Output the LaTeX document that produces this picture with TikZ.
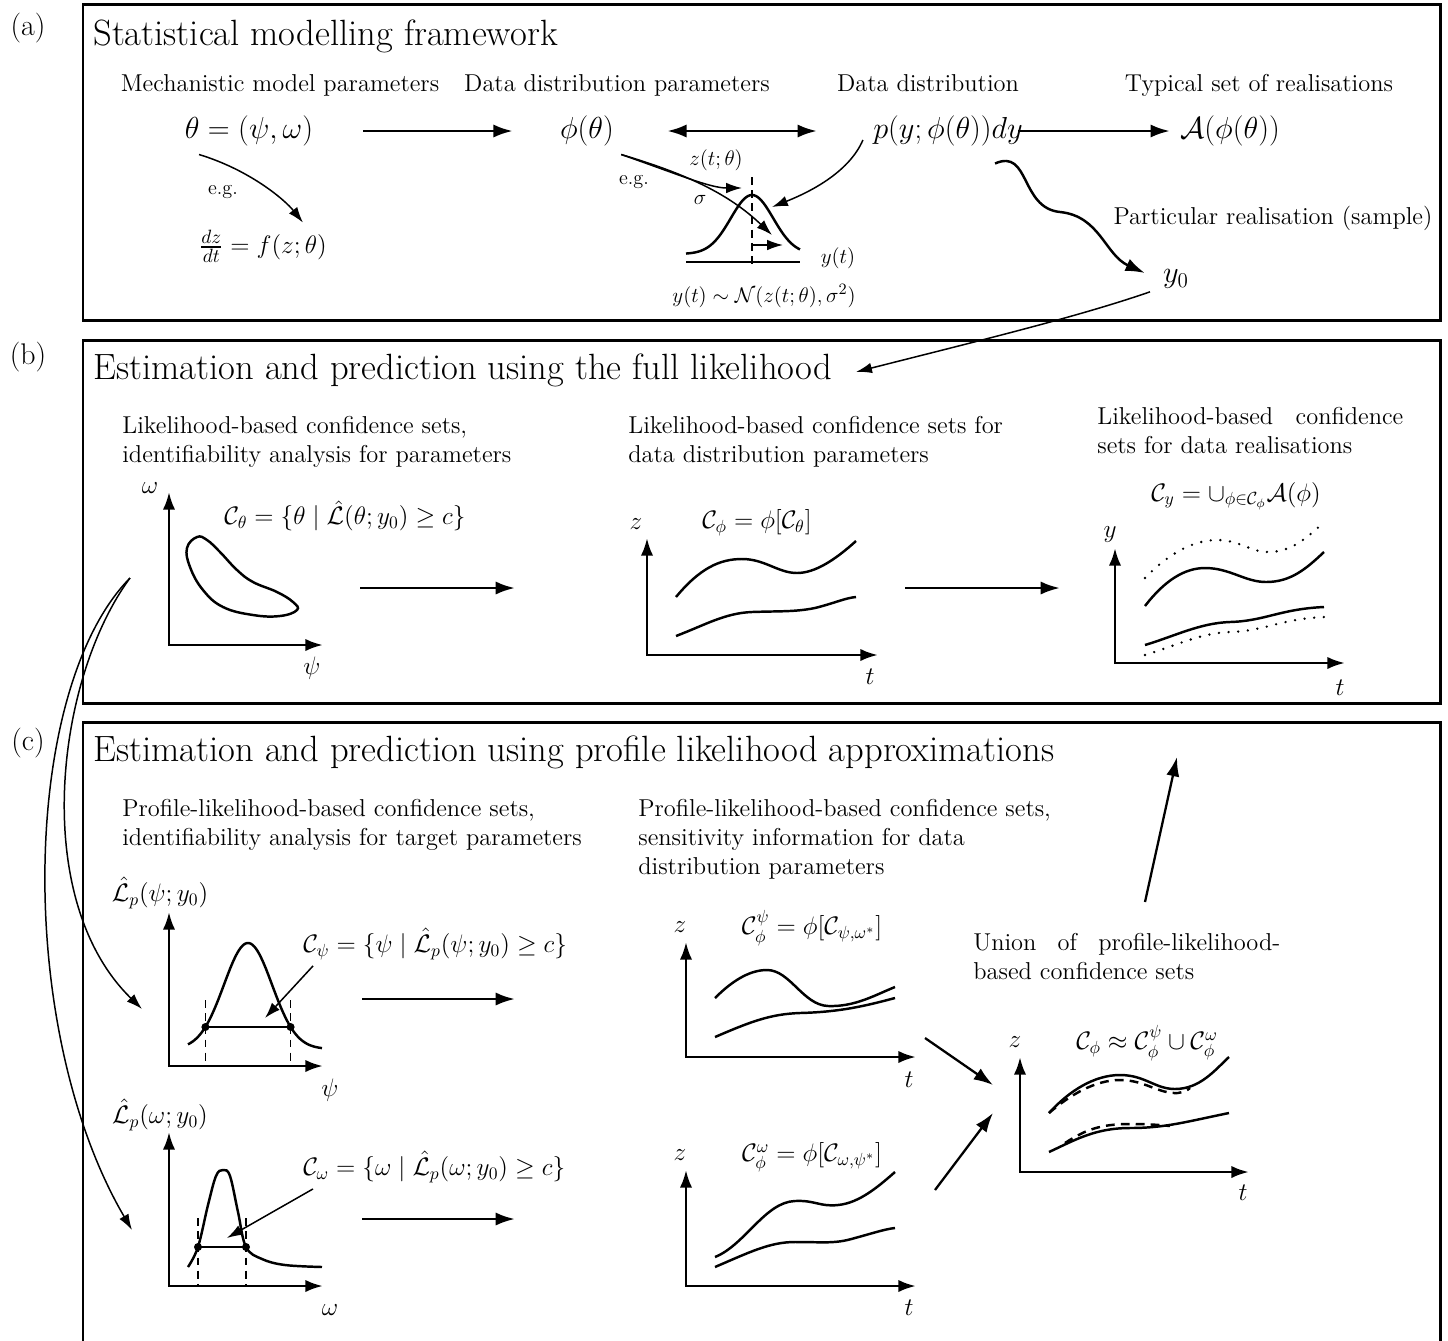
\documentclass[tikz,border=0pt]{standalone}
\usepackage{amsmath,amssymb}
\usetikzlibrary{arrows.meta, calc}

\tikzset{
  panelbox/.style={line width=1.7pt},
  panellbl/.style={font=\fontsize{17}{20}\selectfont, inner sep=0pt},
  paneltitle/.style={font=\fontsize{20.8}{24}\selectfont, inner sep=0pt, anchor=base west},
  lbl/.style={font=\fontsize{13.9}{16.6}\selectfont, inner sep=0pt, align=left},
  mathlbl/.style={font=\fontsize{17.5}{20}\selectfont, inner sep=0pt},
  setlbl/.style={font=\fontsize{14.5}{17}\selectfont, inner sep=0pt},
  smalllbl/.style={font=\fontsize{13}{15.5}\selectfont, inner sep=0pt},
  axlbl/.style={font=\fontsize{14}{16}\selectfont, inner sep=0pt},
  bigarrow/.style={line width=1.6pt, -{Latex[length=11pt,width=7.5pt]}},
  thinarrow/.style={line width=0.85pt, -{Latex[length=9pt,width=6pt]}},
  axisline/.style={line width=1.6pt, {Latex[length=10pt,width=7pt]}-{Latex[length=10pt,width=7pt]}},
  bandline/.style={line width=1.4pt},
  dotline/.style={line width=1.5pt, line cap=round, dash pattern=on 0pt off 5.5pt},
  dashline/.style={line width=1.4pt, dash pattern=on 5pt off 3.5pt},
  guideline/.style={line width=0.8pt, dash pattern=on 4.5pt off 3pt},
}

\begin{document}
\begin{tikzpicture}[x=0.02cm, y=-0.02cm]
  \useasboundingbox (0,0) rectangle (1448,1340);

  % ---------------- (a) statistical modelling framework
  \draw[panelbox] (83,4) rectangle (1440,320);
  \node[panellbl] (taga) at (28,28) {(a)};
  \node[paneltitle] (titlea) at (93,45) {Statistical modelling framework};

  \node[lbl, anchor=base] (mechlbl) at (280,91) {Mechanistic model parameters};
  \node[lbl, anchor=base] (ddplbl) at (617,91) {Data distribution parameters};
  \node[lbl, anchor=base] (ddlbl) at (928,91) {Data distribution};
  \node[lbl, anchor=base] (typlbl) at (1259,91) {Typical set of realisations};

  \node[mathlbl] (theta) at (249,131) {$\theta=(\psi,\omega)$};
  \node[mathlbl] (phi) at (587,131) {$\phi(\theta)$};
  \node[mathlbl] (pdist) at (948,131) {$p(y;\phi(\theta))dy$};
  \node[mathlbl] (typset) at (1230,131) {$\mathcal{A}(\phi(\theta))$};
  \node[mathlbl, font=\fontsize{15.8}{18}\selectfont] (ode) at (263,246) {$\frac{dz}{dt}=f(z;\theta)$};
  \node[lbl] (eg1) at (223,192) {\fontsize{11.5}{13}\selectfont e.g.};
  \node[lbl] (eg2) at (634,182) {\fontsize{11.5}{13}\selectfont e.g.};

  \draw[bigarrow] ($(theta.east)+(50,0)$) -- ($(phi.west)+(-47,0)$);
  \draw[line width=1.6pt, {Latex[length=11pt,width=7.5pt]}-{Latex[length=11pt,width=7.5pt]}]
    ($(phi.east)+(53,0)$) -- ($(pdist.west)+(-56,0)$);
  \draw[bigarrow] ($(pdist.east)+(-5,0)$) -- ($(typset.west)+(-10,0)$);
  \draw[thinarrow] ($(theta.south)+(-50,8)$) .. controls (250,170) and (285,200) .. ($(ode.north)+(40,-7)$);

  % normal distribution sketch
  \coordinate (ztip) at (742,188);
  \coordinate (sigtip) at (772,235);
  \coordinate (gtip) at (772,207);
  \draw[bandline] (686,262) -- (800,262);
  \draw[bandline] plot[domain=686:800, samples=60] (\x, {254-59*exp(-((\x-752)/30)^2)});
  \draw[guideline] (752,177) -- (752,268);
  \draw[thinarrow] (753,245) -- (783,245);
  \node[smalllbl] (ztlbl) at (716,160) {$z(t;\theta)$};
  \node[smalllbl] (siglbl) at (700,200) {$\sigma$};
  \node[smalllbl] (ytlbl) at (838,258) {$y(t)$};
  \node[smalllbl] (normlbl) at (764,296) {$y(t)\sim\mathcal{N}(z(t;\theta),\sigma^2)$};
  \draw[thinarrow] ($(phi.south east)+(7,8)$) .. controls (690,175) and (730,195) .. (sigtip);
  \draw[thinarrow] ($(phi.south east)+(7,8)$) .. controls (680,175) and (710,188) .. (ztip);
  \draw[thinarrow] ($(pdist.west)+(-10,9)$) .. controls (850,170) and (815,190) .. (gtip);

  \node[lbl] (partlbl) at (1273,218) {Particular realisation (sample)};
  \node[mathlbl] (yzero) at (1176,279) {$y_0$};
  \draw[bigarrow, line width=1.4pt] ($(pdist.south east)+(-28,17)$) .. controls (1030,148) and (1020,208) .. (1060,212)
    .. controls (1100,216) and (1105,255) .. ($(yzero.west)+(-18,-6)$);

  % ---------------- (b) full likelihood
  \draw[panelbox] (83,340) rectangle (1440,703);
  \node[panellbl] (tagb) at (28,357) {(b)};
  \node[paneltitle] (titleb) at (93,379) {Estimation and prediction using the full likelihood};
  \draw[thinarrow] ($(yzero.south)+(-26,3)$) .. controls (1080,316) and (990,338) .. ($(titleb.east)+(24,2)$);

  \node[lbl, anchor=north west] (lik1) at (122,416) {Likelihood-based confidence sets,\\identifiability analysis for parameters};
  \node[lbl, anchor=north west] (lik2) at (628,416) {Likelihood-based confidence sets for\\data distribution parameters};
  \node[lbl, anchor=north west] (lik3) at (1097,407) {\makebox[6.12cm][s]{Likelihood-based confidence}\\sets for data realisations};

  % parameter space
  \draw[axisline] (169,492) -- (169,645) -- (323,645);
  \node[axlbl] (omegaax) at (150,488) {$\omega$};
  \node[axlbl] (psiax) at (312,668) {$\psi$};
  \draw[bandline] plot[smooth cycle, tension=0.7] coordinates {(197,537) (187,548) (190,567) (203,590) (223,607) (253,615) (280,616) (297,610) (293,602) (277,592) (253,582) (237,570) (220,552) (207,540)};
  \node[setlbl] (ctheta) at (345,516) {$\mathcal{C}_\theta=\{\theta\mid\hat{\mathcal{L}}(\theta;y_0)\geq c\}$};
  \coordinate (b1s) at (360,588);
  \coordinate (b1e) at (515,588);
  \draw[bigarrow] (b1s) -- (b1e);

  % data distribution parameter space
  \draw[axisline] (647,538) -- (647,655) -- (878,655);
  \node[axlbl] (zax1) at (636,524) {$z$};
  \node[axlbl] (tax1) at (870,677) {$t$};
  \node[setlbl] (cphi) at (757,523) {$\mathcal{C}_\phi=\phi[\mathcal{C}_\theta]$};
  \draw[bandline] (676,597) .. controls (700,568) and (720,559) .. (742,559)
    .. controls (765,559) and (778,573) .. (797,573) .. controls (815,573) and (835,560) .. (856,541);
  \draw[bandline] (676,636) .. controls (705,625) and (725,613) .. (752,612)
    .. controls (780,611) and (795,612) .. (815,608) .. controls (835,603) and (845,598) .. (856,597);
  \coordinate (b2s) at (905,588);
  \coordinate (b2e) at (1060,588);
  \draw[bigarrow] (b2s) -- (b2e);

  % data realisations
  \draw[axisline] (1115,548) -- (1115,663) -- (1345,663);
  \node[axlbl] (yax) at (1110,535) {$y$};
  \node[axlbl] (tax2) at (1340,688) {$t$};
  \node[setlbl] (cy) at (1236,496) {$\mathcal{C}_y=\cup_{\phi\in\mathcal{C}_\phi}\mathcal{A}(\phi)$};
  \draw[dotline] (1145,578) .. controls (1170,552) and (1195,540) .. (1217,540)
    .. controls (1240,540) and (1250,552) .. (1268,552) .. controls (1290,552) and (1305,540) .. (1324,522);
  \draw[bandline] (1145,606) .. controls (1165,580) and (1185,568) .. (1205,568)
    .. controls (1230,568) and (1245,582) .. (1266,582) .. controls (1290,582) and (1305,570) .. (1324,552);
  \draw[bandline] (1145,645) .. controls (1175,636) and (1200,623) .. (1230,622)
    .. controls (1265,621) and (1280,609) .. (1324,607);
  \draw[dotline] (1145,655) .. controls (1175,646) and (1200,633) .. (1230,632)
    .. controls (1265,631) and (1280,619) .. (1324,617);

  % ---------------- (c) profile likelihood
  \draw[panelbox] (83,1345) -- (83,722) -- (1440,722) -- (1440,1345);
  \node[panellbl] (tagc) at (28,743) {(c)};
  \node[paneltitle] (titlec) at (93,761) {Estimation and prediction using profile likelihood approximations};

  \node[lbl, anchor=north west] (prof1) at (122,799) {Profile-likelihood-based confidence sets,\\identifiability analysis for target parameters};
  \node[lbl, anchor=north west] (prof2) at (638,799) {Profile-likelihood-based confidence sets,\\sensitivity information for data\\distribution parameters};
  \node[lbl, anchor=north west] (unionlbl) at (973,933) {\makebox[6.14cm][s]{Union of profile-likelihood-}\\based confidence sets};

  % profile for psi
  \draw[axisline] (169,912) -- (169,1066) -- (323,1066);
  \node[setlbl] (lpsi) at (160,893) {$\hat{\mathcal{L}}_p(\psi;y_0)$};
  \node[axlbl] (psiax2) at (330,1090) {$\psi$};
  \draw[guideline] (205.4,1000) -- (205.4,1066);
  \draw[guideline] (290.6,1000) -- (290.6,1066);
  \draw[bandline] plot[domain=188:322, samples=80] (\x, {1049-106*exp(-((\x-248)/34)^2)});
  \draw[line width=1.2pt] (205.4,1027) -- (290.6,1027);
  \fill (205.4,1027) circle (4) (290.6,1027) circle (4);
  \node[setlbl, anchor=west] (cpsi) at (303,944) {$\mathcal{C}_\psi=\{\psi\mid\hat{\mathcal{L}}_p(\psi;y_0)\geq c\}$};
  \coordinate (cpsitip) at (265,1018);
  \draw[thinarrow] ($(cpsi.south west)+(10,6)$) -- (cpsitip);
  \coordinate (c1s) at (362,999);
  \coordinate (c1e) at (515,999);
  \draw[bigarrow] (c1s) -- (c1e);

  % profile for omega
  \draw[axisline] (169,1132) -- (169,1286) -- (323,1286);
  \node[setlbl] (lomega) at (160,1115) {$\hat{\mathcal{L}}_p(\omega;y_0)$};
  \node[axlbl] (omegaax2) at (330,1310) {$\omega$};
  \draw[guideline] (198,1218) -- (198,1286);
  \draw[guideline] (246,1218) -- (246,1286);
  \draw[bandline] plot[smooth, tension=0.6] coordinates {(188,1267) (198,1247) (208,1205) (216,1176) (223,1170) (230,1176) (238,1212) (246,1247) (262,1259) (285,1265) (322,1267)};
  \draw[line width=1.2pt] (198,1247) -- (246,1247);
  \fill (198,1247) circle (4) (246,1247) circle (4);
  \node[setlbl, anchor=west] (comega) at (303,1167) {$\mathcal{C}_\omega=\{\omega\mid\hat{\mathcal{L}}_p(\omega;y_0)\geq c\}$};
  \coordinate (comegatip) at (227,1238);
  \draw[thinarrow] ($(comega.south west)+(10,6)$) -- (comegatip);
  \coordinate (c2s) at (362,1219);
  \coordinate (c2e) at (515,1219);
  \draw[bigarrow] (c2s) -- (c2e);

  % arrows from the full-likelihood set to the profiles
  \coordinate (blobout) at (130,578);
  \coordinate (psitip) at (142,1009);
  \coordinate (omegatip) at (132,1230);
  \draw[thinarrow] (blobout) .. controls (55,680) and (30,900) .. (psitip);
  \draw[thinarrow] (blobout) .. controls (20,690) and (15,1030) .. (omegatip);

  % propagated profile sets
  \draw[axisline] (686,942) -- (686,1057) -- (916,1057);
  \node[axlbl] (zax2) at (680,927) {$z$};
  \node[axlbl] (tax3) at (909,1080) {$t$};
  \node[setlbl] (cphipsi) at (812,928) {$\mathcal{C}_\phi^\psi=\phi[\mathcal{C}_{\psi,\omega^*}]$};
  \draw[bandline] (715,998) .. controls (735,978) and (752,970) .. (767,970)
    .. controls (790,970) and (803,1005) .. (828,1006) .. controls (855,1007) and (875,995) .. (895,987);
  \draw[bandline] (715,1037) .. controls (750,1022) and (770,1014) .. (800,1013)
    .. controls (840,1012) and (865,1006) .. (895,998);

  \draw[axisline] (686,1170) -- (686,1286) -- (916,1286);
  \node[axlbl] (zax3) at (680,1155) {$z$};
  \node[axlbl] (tax4) at (909,1308) {$t$};
  \node[setlbl] (cphiomega) at (812,1157) {$\mathcal{C}_\phi^\omega=\phi[\mathcal{C}_{\omega,\psi^*}]$};
  \draw[bandline] (715,1257) .. controls (745,1245) and (765,1202) .. (795,1201)
    .. controls (815,1200) and (820,1207) .. (838,1205) .. controls (860,1203) and (880,1185) .. (895,1172);
  \draw[bandline] (715,1267) .. controls (750,1252) and (770,1242) .. (795,1242)
    .. controls (825,1242) and (835,1244) .. (855,1238) .. controls (870,1234) and (885,1229) .. (895,1228);

  % union of the profile sets
  \draw[axisline] (1020,1057) -- (1020,1172) -- (1249,1172);
  \node[axlbl] (zax4) at (1015,1042) {$z$};
  \node[axlbl] (tax5) at (1243,1193) {$t$};
  \node[setlbl] (cunion) at (1147,1043) {$\mathcal{C}_\phi\approx\mathcal{C}_\phi^\psi\cup\mathcal{C}_\phi^\omega$};
  \draw[bandline] (1049,1113) .. controls (1070,1090) and (1095,1075) .. (1120,1075)
    .. controls (1145,1075) and (1155,1089) .. (1175,1089) .. controls (1200,1089) and (1215,1070) .. (1229,1057);
  \draw[dashline] (1049,1113) .. controls (1070,1095) and (1095,1080) .. (1120,1080)
    .. controls (1145,1080) and (1158,1094) .. (1178,1093) .. controls (1184,1092) and (1188,1090) .. (1190,1088);
  \draw[bandline] (1049,1152) .. controls (1075,1140) and (1095,1128) .. (1130,1128)
    .. controls (1165,1128) and (1185,1122) .. (1229,1113);
  \draw[dashline] (1065,1143) .. controls (1085,1130) and (1100,1124) .. (1130,1124)
    .. controls (1150,1124) and (1160,1125) .. (1170,1126);

  \coordinate (u1s) at (925,1038);
  \coordinate (u2s) at (935,1190);
  \coordinate (u1e) at (993,1085);
  \coordinate (u2e) at (993,1113);
  \draw[bigarrow, line width=1.3pt] (u1s) -- (u1e);
  \draw[bigarrow, line width=1.3pt] (u2s) -- (u2e);

  \coordinate (ups) at (1145,902);
  \coordinate (upe) at (1177,757);
  \draw[bigarrow, line width=1.3pt] (ups) -- (upe);
\end{tikzpicture}
\end{document}
